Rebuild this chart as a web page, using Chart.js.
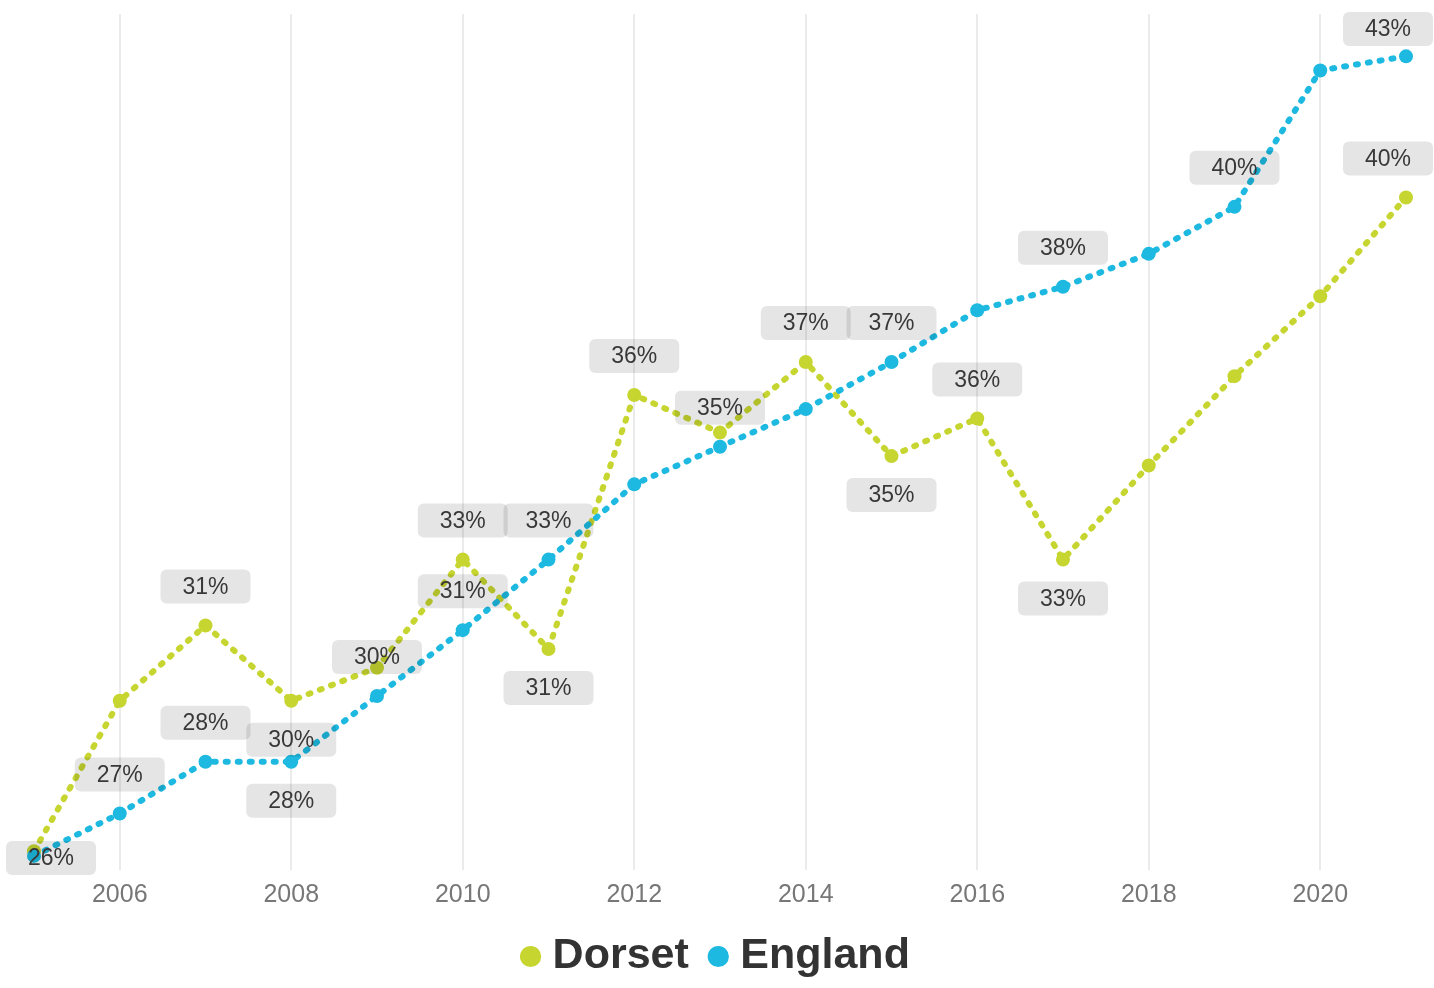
<!DOCTYPE html>
<html>
<head>
<meta charset="utf-8">
<title>Dorset and England</title>
<script src="https://cdn.jsdelivr.net/npm/chart.js@4.4.1/dist/chart.umd.min.js"></script>
<style>
  html, body { margin: 0; padding: 0; background: #fff; }
  #wrap { width: 1434px; height: 988px; }
</style>
</head>
<body>
<div id="wrap"><canvas id="trend-chart"></canvas></div>
<script>
const years = ['2005', '2006', '2007', '2008', '2009', '2010', '2011', '2012', '2013',
               '2014', '2015', '2016', '2017', '2018', '2019', '2020', '2021'];

// percentages per year
const dorset = [26.4, 29.6, 31.2, 29.6, 30.3, 32.6, 30.7, 36.1, 35.3,
                36.8, 34.8, 35.6, 32.6, 34.6, 36.5, 38.2, 40.3];
const england = [26.3, 27.2, 28.3, 28.3, 29.7, 31.1, 32.6, 34.2, 35.0,
                 35.8, 36.8, 37.9, 38.4, 39.1, 40.1, 43.0, 43.3];

// which points get a value tag, and on which side of the point it sits
const dorsetTags = ['', '', 'up', 'down', '', 'up', 'down', 'up', '',
                    'up', 'down', 'up', 'down', '', '', '', 'up'];
const englandTags = ['down', 'up', 'up', 'down', 'up', 'up', 'up', '', 'up',
                     '', 'up', '', 'up', '', 'up', '', 'up'];

const FONT = '"Liberation Sans", Arial, sans-serif';
const DORSET_COLOR = '#c6d530';
const ENGLAND_COLOR = '#1db9e0';

const tagSides = [dorsetTags, englandTags];

// grey rounded boxes with the rounded value, drawn over the lines
const valueTags = {
    id: 'valueTags',
    afterDatasetsDraw(chart) {
        const ctx = chart.ctx;
        const area = chart.chartArea;
        const w = 90, h = 34;
        ctx.save();
        ctx.font = '23px ' + FONT;
        ctx.textAlign = 'center';
        ctx.textBaseline = 'middle';
        chart.data.datasets.forEach((ds, di) => {
            const meta = chart.getDatasetMeta(di);
            tagSides[di].forEach((side, i) => {
                if (!side) return;
                const pt = meta.data[i];
                let cx = pt.x;
                let cy = side === 'up' ? pt.y - 39 : pt.y + 39;
                cx = Math.min(Math.max(cx, 6 + w / 2), chart.width - 1 - w / 2);
                cy = Math.min(Math.max(cy, area.top - 2 + h / 2), area.bottom + 5 - h / 2);
                ctx.fillStyle = 'rgba(0, 0, 0, 0.1)';
                ctx.beginPath();
                ctx.roundRect(cx - w / 2, cy - h / 2, w, h, 6);
                ctx.fill();
                ctx.fillStyle = '#383838';
                ctx.fillText(Math.round(ds.data[i]) + '%', cx, cy + 1);
            });
        });
        ctx.restore();
    }
};

function lineSeries(label, data, color, order) {
    return {
        label: label,
        data: data,
        borderColor: color,
        backgroundColor: color,
        pointBackgroundColor: color,
        pointBorderWidth: 0,
        pointRadius: 7,
        borderWidth: 6,
        borderDash: [2, 10],
        borderCapStyle: 'round',
        tension: 0,
        order: order
    };
}

new Chart(document.getElementById('trend-chart'), {
    type: 'line',
    data: {
        labels: years,
        datasets: [
            lineSeries('Dorset', dorset, DORSET_COLOR, 1),
            lineSeries('England', england, ENGLAND_COLOR, 0)
        ]
    },
    options: {
        responsive: true,
        maintainAspectRatio: false,
        animation: false,
        layout: { padding: { top: 14, left: 34, right: 28, bottom: 0 } },
        scales: {
            x: {
                grid: { color: '#ebebeb', lineWidth: 2, drawTicks: false },
                border: { display: false },
                ticks: {
                    autoSkip: false,
                    maxRotation: 0,
                    padding: 10,
                    color: '#777',
                    font: { size: 25, family: FONT },
                    // only even years are labelled; null also drops the grid line
                    callback: function (value, index) {
                        return index % 2 === 1 ? this.getLabelForValue(value) : null;
                    }
                },
                afterFit(scale) { scale.height = 36; }
            },
            y: { display: false, min: 26, max: 44.2 }
        },
        plugins: {
            legend: {
                position: 'bottom',
                labels: {
                    usePointStyle: true,
                    pointStyle: 'circle',
                    boxWidth: 1,
                    boxHeight: 15,
                    padding: 29,
                    color: '#333',
                    font: { size: 43, weight: 'bold', family: FONT },
                    sort: (a, b) => a.datasetIndex - b.datasetIndex
                }
            },
            tooltip: { enabled: false }
        }
    },
    plugins: [valueTags]
});
</script>
</body>
</html>
